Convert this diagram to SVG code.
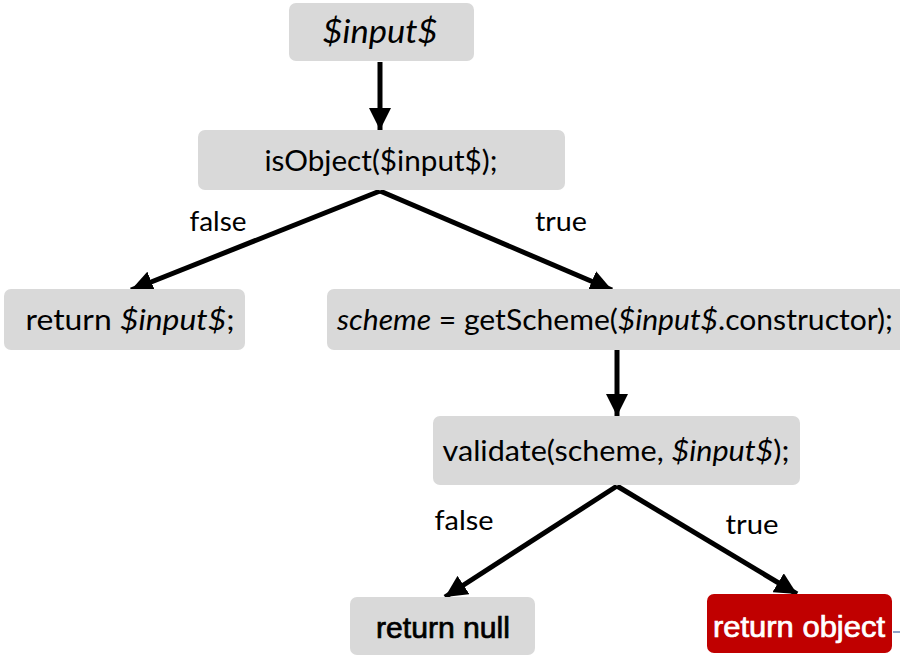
<svg xmlns="http://www.w3.org/2000/svg" width="900" height="657" viewBox="0 0 900 657">
  <style>
    .box { fill: #d9d9d9; }
    .hot { fill: #c00000; }
    .t { font-family: Lato, "Open Sans", sans-serif; font-size: 29px; fill: #000; text-anchor: middle; }
    .lbl { font-family: Lato, "Open Sans", sans-serif; font-size: 26px; fill: #000; text-anchor: middle; }
    .a { font-family: "Liberation Sans", Arial, sans-serif; font-size: 29px; text-anchor: middle; stroke-width: 0.7; }
    .it { font-style: italic; }
    .edge { stroke: #000; stroke-width: 5; fill: none; marker-end: url(#arrow); }
  </style>
  <defs>
    <marker id="arrow" markerUnits="userSpaceOnUse" markerWidth="24" markerHeight="22" refX="22" refY="11" orient="auto">
      <path d="M0,0 L22,11 L0,22 z" fill="#000"/>
    </marker>
  </defs>
  <rect width="900" height="657" fill="#fff"/>

  <g id="connectors">
    <line class="edge" x1="380" y1="62" x2="380" y2="130"/>
    <line class="edge" x1="380" y1="191" x2="131" y2="290"/>
    <line class="edge" x1="380" y1="191" x2="612" y2="290"/>
    <line class="edge" x1="617" y1="350" x2="617" y2="416"/>
    <line class="edge" x1="617" y1="486" x2="445" y2="597"/>
    <line class="edge" x1="617" y1="486" x2="797" y2="594"/>
    <line x1="893" y1="632" x2="900" y2="632" stroke="#8fa3c8" stroke-width="2"/>
  </g>

  <g id="labels">
    <text class="lbl" x="218" y="231" textLength="57" lengthAdjust="spacingAndGlyphs">false</text>
    <text class="lbl" x="561" y="231" textLength="52" lengthAdjust="spacingAndGlyphs">true</text>
    <text class="lbl" x="464" y="530" textLength="59" lengthAdjust="spacingAndGlyphs">false</text>
    <text class="lbl" x="752" y="534" textLength="53" lengthAdjust="spacingAndGlyphs">true</text>
  </g>

  <g id="input">
    <rect class="box" x="289" y="3" width="185" height="58" rx="7"/>
    <text class="t it" x="380" y="43" style="font-size:33px" textLength="115" lengthAdjust="spacingAndGlyphs">$input$</text>
  </g>

  <g id="isObject">
    <rect class="box" x="198" y="130" width="367" height="60" rx="7"/>
    <text class="t" x="381" y="171" textLength="233" lengthAdjust="spacingAndGlyphs">isObject($input$);</text>
  </g>

  <g id="returnInput">
    <rect class="box" x="4" y="289" width="241" height="61" rx="7"/>
    <text class="t" x="130" y="330" textLength="209" lengthAdjust="spacingAndGlyphs">return <tspan class="it">$input$</tspan>;</text>
  </g>

  <g id="getScheme">
    <rect class="box" x="327" y="289" width="590" height="61" rx="7"/>
    <text class="t" x="615" y="330" textLength="556" lengthAdjust="spacingAndGlyphs"><tspan class="it">scheme</tspan> = getScheme(<tspan class="it">$input$</tspan>.constructor);</text>
  </g>

  <g id="validate">
    <rect class="box" x="433" y="416" width="367" height="69" rx="7"/>
    <text class="t" x="616" y="461" textLength="347" lengthAdjust="spacingAndGlyphs">validate(scheme, <tspan class="it">$input$</tspan>);</text>
  </g>

  <g id="returnNull">
    <rect class="box" x="350" y="597" width="185" height="58" rx="7"/>
    <text class="a" x="443" y="638" fill="#000" stroke="#000" textLength="134" lengthAdjust="spacingAndGlyphs">return null</text>
  </g>

  <g id="returnObject">
    <rect class="hot" x="707" y="594" width="185" height="59" rx="7"/>
    <text class="a" x="799" y="637" fill="#fff" stroke="#fff" textLength="172" lengthAdjust="spacingAndGlyphs">return object</text>
  </g>
</svg>
